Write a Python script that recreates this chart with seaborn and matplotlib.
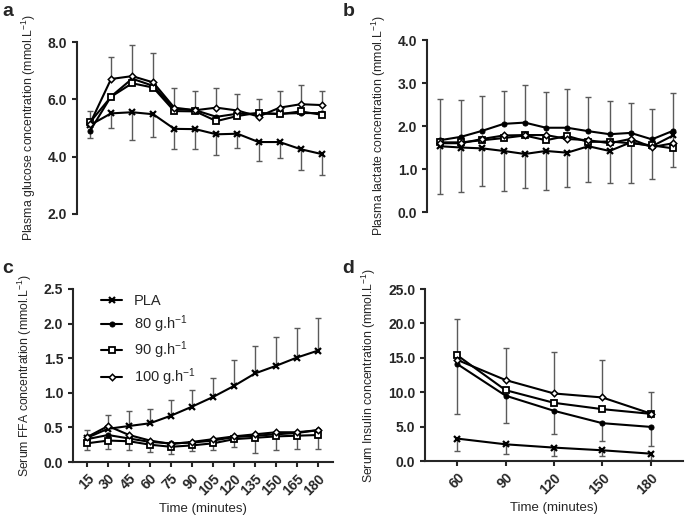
import numpy as np
import pandas as pd
import seaborn as sns
import matplotlib
import matplotlib.pyplot as plt
from matplotlib.ticker import FormatStrFormatter

# ---------------- data ----------------
time = [15, 30, 45, 60, 75, 90, 105, 120, 135, 150, 165, 180]
time_ins = [60, 90, 120, 150, 180]

# a: plasma glucose
glu_pla = [5.1, 5.51, 5.55, 5.48, 4.97, 4.96, 4.78, 4.8, 4.51, 4.51, 4.26, 4.09]
glu_80 = [4.9, 6.1, 6.72, 6.47, 5.67, 5.62, 5.39, 5.5, 5.5, 5.5, 5.52, 5.52]
glu_90 = [5.2, 6.09, 6.56, 6.41, 5.59, 5.58, 5.24, 5.42, 5.53, 5.48, 5.58, 5.46]
glu_100 = [5.15, 6.71, 6.81, 6.59, 5.71, 5.62, 5.71, 5.61, 5.4, 5.71, 5.83, 5.8]
glu_hi = [5.59, 7.49, 7.9, 7.6, 6.41, 6.29, 6.41, 6.19, 6.0, 6.29, 6.5, 6.29]
glu_lo = [4.66, 4.99, 4.58, 4.68, 4.26, 4.26, 4.06, 4.29, 3.86, 3.94, 3.54, 3.36]

# b: plasma lactate
lac_pla = [1.53, 1.5, 1.48, 1.42, 1.35, 1.42, 1.38, 1.53, 1.42, 1.62, 1.53, 1.78]
lac_80 = [1.67, 1.75, 1.89, 2.05, 2.08, 1.96, 1.96, 1.88, 1.81, 1.84, 1.69, 1.89]
lac_90 = [1.62, 1.62, 1.67, 1.72, 1.78, 1.67, 1.77, 1.63, 1.64, 1.6, 1.55, 1.48]
lac_100 = [1.6, 1.6, 1.7, 1.78, 1.79, 1.79, 1.7, 1.67, 1.6, 1.7, 1.51, 1.6]
lac_hi = [2.64, 2.6, 2.71, 2.82, 2.95, 2.8, 2.87, 2.68, 2.58, 2.54, 2.39, 2.76]
lac_lo = [0.41, 0.47, 0.61, 0.49, 0.57, 0.51, 0.59, 0.7, 0.67, 0.68, 0.77, 1.04]

# c: serum FFA
ffa_pla = [0.35, 0.48, 0.52, 0.56, 0.67, 0.8, 0.94, 1.1, 1.28, 1.39, 1.51, 1.61]
ffa_80 = [0.33, 0.39, 0.34, 0.29, 0.27, 0.28, 0.31, 0.36, 0.38, 0.4, 0.42, 0.46]
ffa_90 = [0.27, 0.31, 0.3, 0.25, 0.22, 0.24, 0.27, 0.33, 0.35, 0.37, 0.38, 0.39]
ffa_100 = [0.36, 0.52, 0.39, 0.31, 0.26, 0.29, 0.33, 0.37, 0.4, 0.43, 0.43, 0.46]
ffa_hi = [0.46, 0.68, 0.74, 0.77, 0.89, 1.04, 1.22, 1.47, 1.67, 1.8, 1.93, 2.08]
ffa_lo = [0.18, 0.19, 0.17, 0.15, 0.12, 0.16, 0.18, 0.22, 0.13, 0.17, 0.19, 0.19]

# d: serum insulin
ins_pla = [3.26, 2.43, 1.95, 1.56, 1.07]
ins_80 = [14.1, 9.5, 7.3, 5.5, 4.96]
ins_90 = [15.37, 10.3, 8.46, 7.54, 6.86]
ins_100 = [14.7, 11.77, 9.82, 9.24, 6.9]
ins_hi = [20.7, 16.4, 15.8, 14.7, 10.07]
ins_lo = [6.9, 5.54, 3.9, 2.92, 2.19]
ins_pla_lo = [1.41, 1.07, 0.73, 0.68, 0.2]

labels = ['PLA', '80 g.h$^{-1}$', '90 g.h$^{-1}$', '100 g.h$^{-1}$']

# ---------------- style ----------------
sns.set_style('ticks')
plt.rcParams['font.family'] = ['Liberation Sans', 'DejaVu Sans']
plt.rcParams['mathtext.fontset'] = 'custom'
plt.rcParams['mathtext.rm'] = 'Liberation Sans'
plt.rcParams['mathtext.it'] = 'Liberation Sans:italic'
plt.rcParams['mathtext.bf'] = 'Liberation Sans:bold'
plt.rcParams['axes.linewidth'] = 1.5
plt.rcParams['xtick.major.width'] = 1.5
plt.rcParams['ytick.major.width'] = 1.5
plt.rcParams['xtick.major.size'] = 3.5
plt.rcParams['ytick.major.size'] = 3.5

marker_kw = [
    dict(marker='x', markersize=4.2, markeredgewidth=1.6, markeredgecolor='black'),
    dict(marker='o', markersize=3.6, markerfacecolor='black', markeredgecolor='black'),
    dict(marker='s', markersize=4.4, markerfacecolor='white', markeredgecolor='black', markeredgewidth=1.3),
    dict(marker='D', markersize=3.3, markerfacecolor='white', markeredgecolor='black', markeredgewidth=1.1),
]
bar_col = '#5a5a5a'

fig = plt.figure(figsize=(6.85, 5.18), dpi=100)
ax_a = fig.add_axes([0.1124, 0.5869, 0.3912, 0.3320])
ax_b = fig.add_axes([0.6234, 0.5907, 0.3737, 0.3320])
ax_c = fig.add_axes([0.1066, 0.1081, 0.3796, 0.3340])
ax_d = fig.add_axes([0.6204, 0.1100, 0.3766, 0.3320])


def draw_series(ax, x, series, legend=False):
    for i, y in enumerate(series):
        sns.lineplot(x=x, y=y, ax=ax, color='black', linewidth=1.5,
                     label=labels[i] if legend else None, legend=False,
                     clip_on=False, zorder=3 + i, **marker_kw[i])


def draw_bars(ax, x, mean, cap):
    ax.vlines(x, mean, cap, color=bar_col, linewidth=1.0, zorder=1)
    ax.plot(x, cap, linestyle='none', marker='_', markersize=5,
            markeredgewidth=1.0, color=bar_col, zorder=1)


def style_axis(ax, ylim, ystep, ylabel, xaxis=True):
    ax.set_ylim(*ylim)
    ax.set_yticks(np.arange(ylim[0], ylim[1] + ystep / 2, ystep))
    ax.yaxis.set_major_formatter(FormatStrFormatter('%.1f'))
    ax.set_ylabel(ylabel, fontsize=8.8, labelpad=7)
    for lab in ax.get_yticklabels():
        lab.set_fontweight('bold')
        lab.set_fontsize(10)
    sns.despine(ax=ax, bottom=not xaxis)
    if not xaxis:
        ax.set_xticks([])
        ax.set_xlabel('')
    else:
        ax.set_xlabel('Time (minutes)', fontsize=9.5, va='center')
        h = ax.get_position().height * fig.get_figheight() * fig.dpi
        ax.xaxis.set_label_coords(0.5, -47 / h)
        for lab in ax.get_xticklabels():
            lab.set_fontweight('bold')
            lab.set_fontsize(10)
            lab.set_rotation(45)
            lab.set_ha('right')
            lab.set_rotation_mode('anchor')


# a
draw_bars(ax_a, time, glu_100, glu_hi)
draw_bars(ax_a, time, glu_pla, glu_lo)
draw_series(ax_a, time, [glu_pla, glu_80, glu_90, glu_100])
ax_a.set_xlim(5.75, 196.5)
style_axis(ax_a, (2, 8), 2, 'Plasma glucose concentration (mmol.L$^{-1}$)', xaxis=False)

# b
draw_bars(ax_b, time, lac_80, lac_hi)
draw_bars(ax_b, time, lac_pla, lac_lo)
draw_series(ax_b, time, [lac_pla, lac_80, lac_90, lac_100])
ax_b.set_xlim(5.8, 187)
style_axis(ax_b, (0, 4), 1, 'Plasma lactate concentration (mmol.L$^{-1}$)', xaxis=False)

# c
draw_bars(ax_c, time, ffa_pla, ffa_hi)
draw_bars(ax_c, time, ffa_90, ffa_lo)
draw_series(ax_c, time, [ffa_pla, ffa_80, ffa_90, ffa_100], legend=True)
ax_c.set_xlim(5, 190.7)
ax_c.set_xticks(time)
ax_c.set_xticklabels([str(t) for t in time])
style_axis(ax_c, (0, 2.5), 0.5, 'Serum FFA concentration (mmol.L$^{-1}$)')
ax_c.legend(loc='upper left', bbox_to_anchor=(0.07, 1.03), frameon=False,
            fontsize=10.5, handlelength=1.4, handletextpad=0.8, labelspacing=0.35,
            borderpad=0.2)

# d
draw_bars(ax_d, time_ins, ins_100, ins_hi)
draw_bars(ax_d, time_ins, ins_80, ins_lo)
draw_bars(ax_d, time_ins, ins_pla, ins_pla_lo)
draw_series(ax_d, time_ins, [ins_pla, ins_80, ins_90, ins_100])
ax_d.set_xlim(40, 200)
ax_d.set_xticks(time_ins)
ax_d.set_xticklabels([str(t) for t in time_ins])
style_axis(ax_d, (0, 25), 5, 'Serum Insulin concentration (mmol.L$^{-1}$)')

# panel letters
for txt, (x, y) in zip('abcd', [(0.004, 0.978), (0.500, 0.978), (0.004, 0.482), (0.500, 0.482)]):
    fig.text(x, y, txt, fontsize=14, fontweight='bold', va='center', ha='left')

fig.savefig('out.png', dpi=100)
